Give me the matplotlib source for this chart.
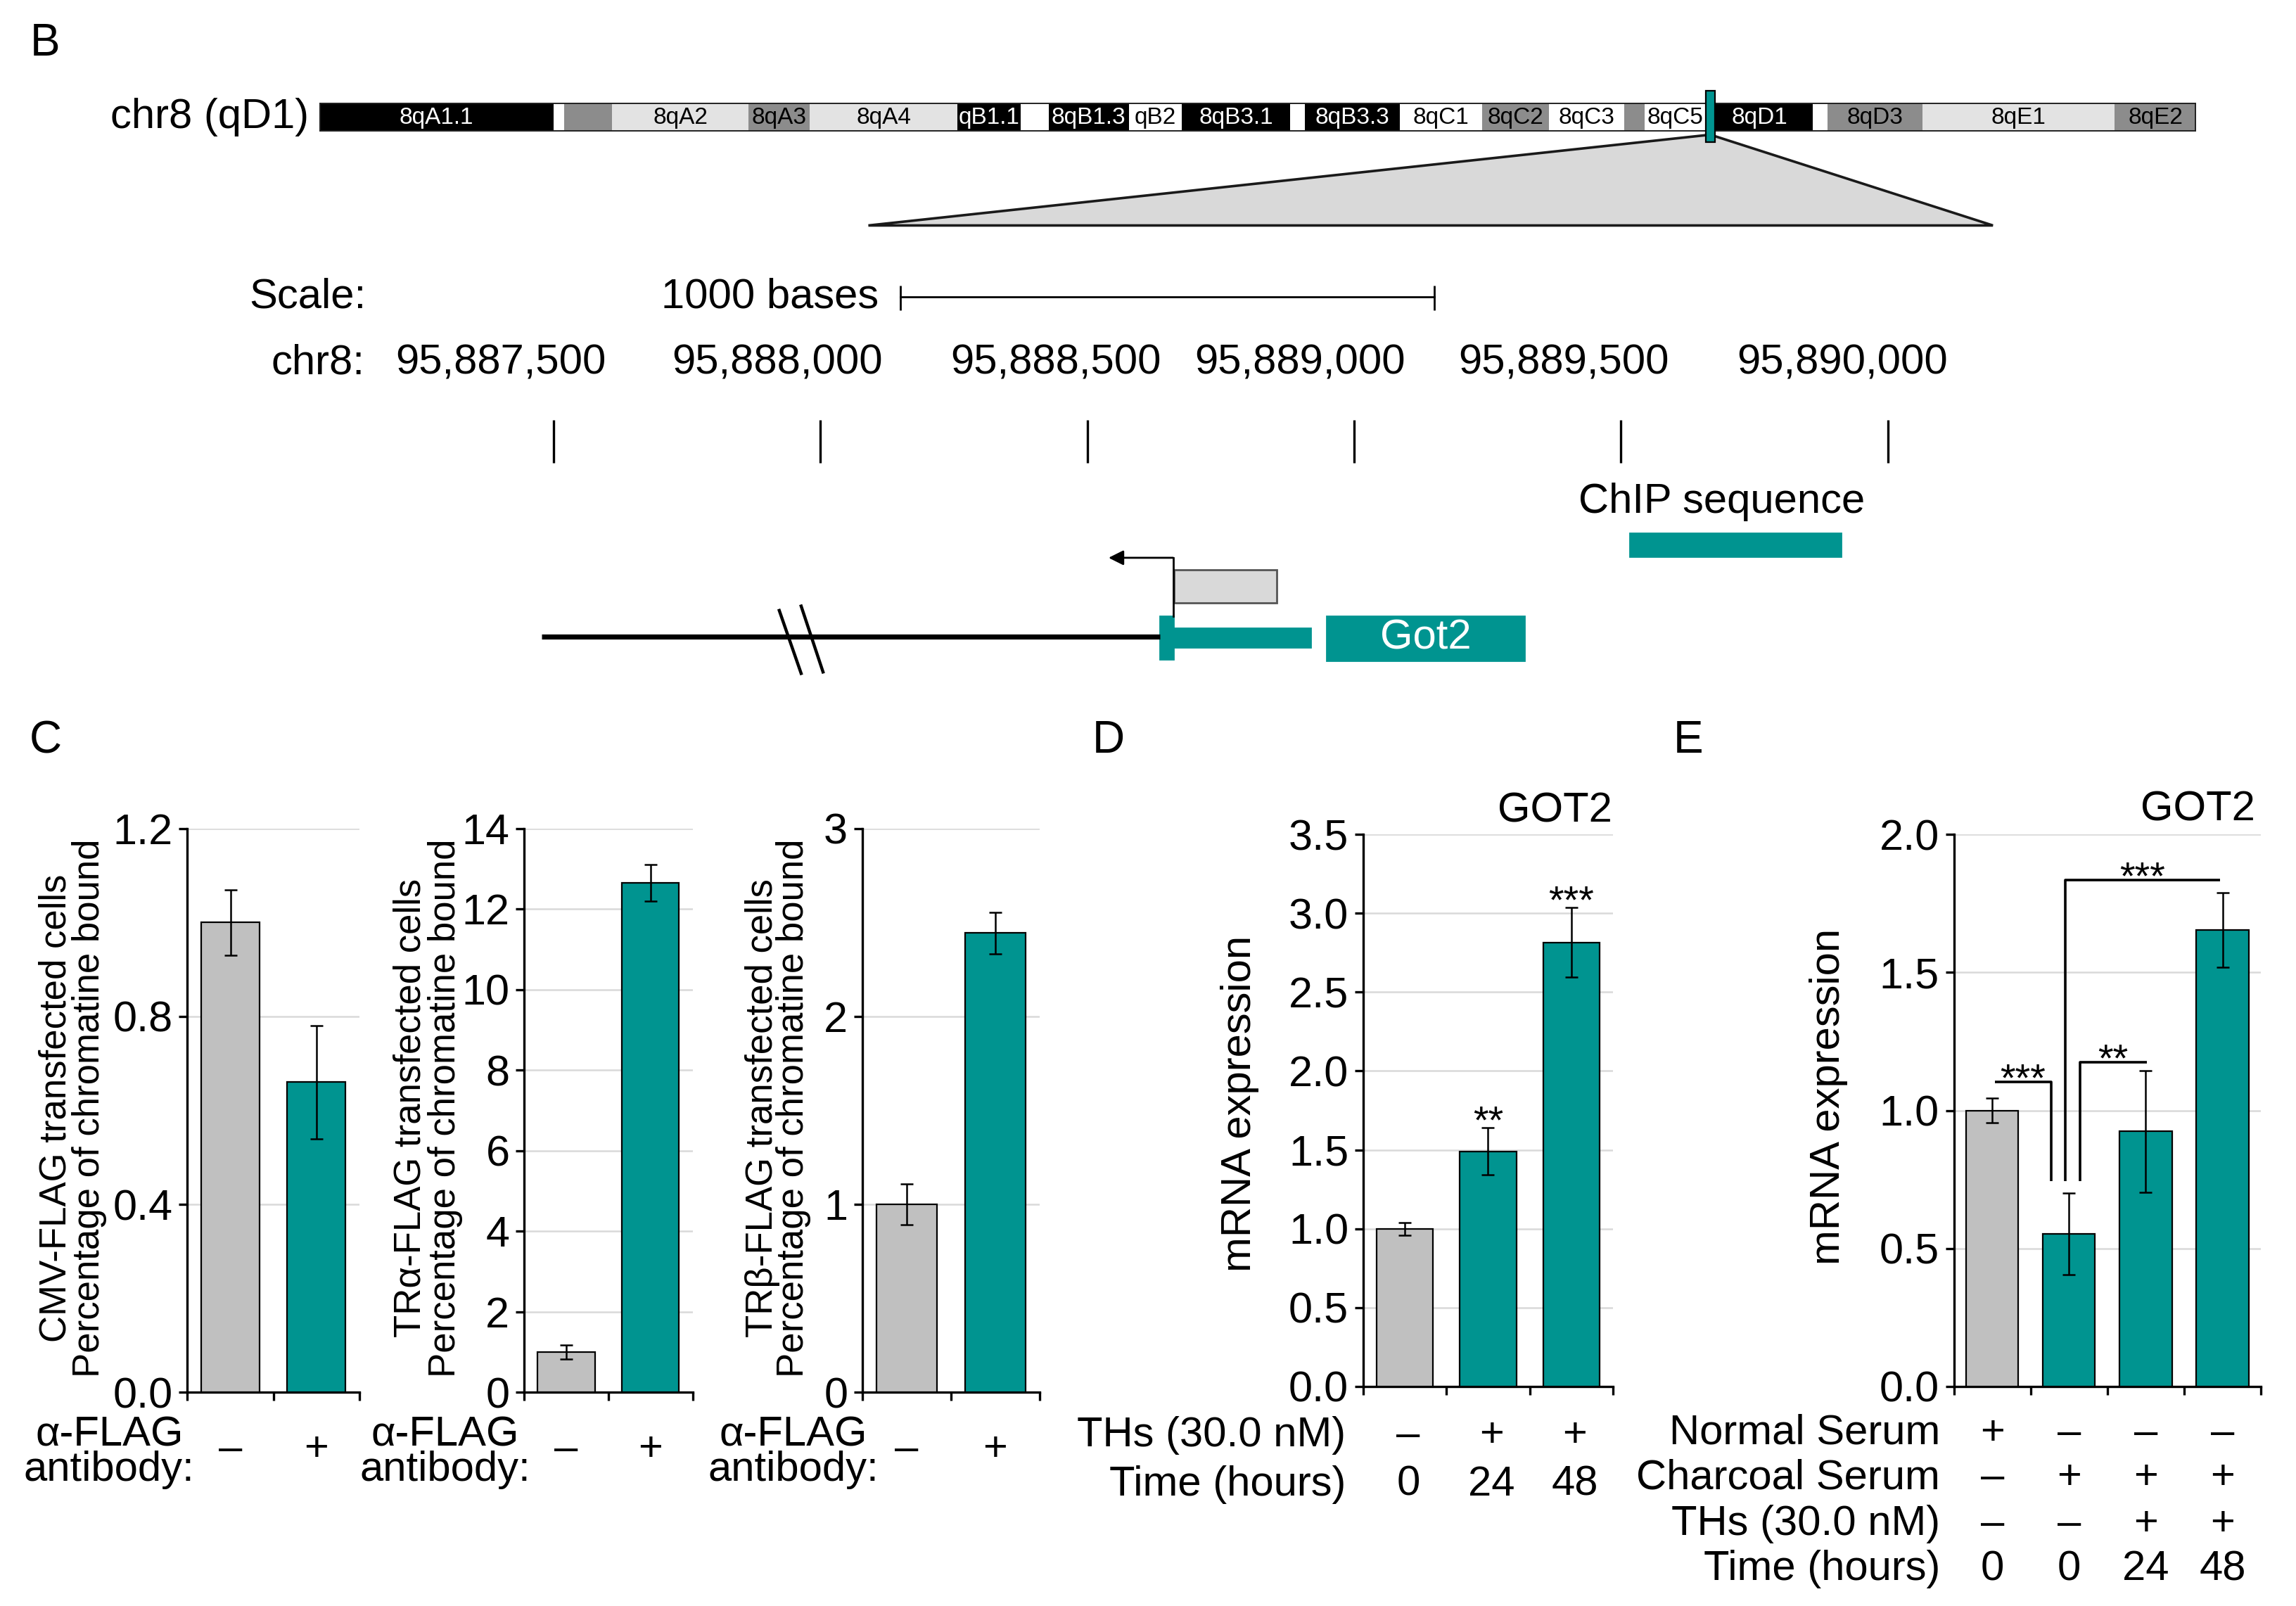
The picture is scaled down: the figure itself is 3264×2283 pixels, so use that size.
import matplotlib
matplotlib.use("Agg")
import matplotlib.pyplot as plt
from matplotlib.patches import Rectangle, Polygon
import numpy as np

plt.rcParams["font.family"] = ["Liberation Sans", "DejaVu Sans"]
plt.rcParams["axes.linewidth"] = 1.2

TEAL, GREY_BAR, LIGHT = "#009490", "#c0c0c0", "#d9d9d9"

# ── B: mouse chr8 ideogram (Mb) ───────────────────────────────────────────
CHR8_LEN = 129.4
BANDS = [("8qA1.1", 0.0, 16.15, "k"), ("", 16.15, 16.86, "w"), ("", 16.86, 20.19, "g"),
         ("8qA2", 20.19, 29.58, "l"), ("8qA3", 29.58, 33.81, "g"), ("8qA4", 33.81, 44.01, "l"),
         ("qB1.1", 44.01, 48.35, "k"), ("", 48.35, 50.27, "w"), ("8qB1.3", 50.27, 55.82, "k"),
         ("qB2", 55.82, 59.45, "w"), ("8qB3.1", 59.45, 66.92, "k"), ("", 66.92, 67.93, "w"),
         ("8qB3.3", 67.93, 74.49, "k"), ("8qC1", 74.49, 80.15, "w"), ("8qC2", 80.15, 84.79, "g"),
         ("8qC3", 84.79, 89.94, "w"), ("", 89.94, 91.35, "g"), ("8qC5", 91.35, 95.59, "w"),
         ("8qD1", 95.59, 102.96, "k"), ("", 102.96, 103.97, "w"), ("8qD3", 103.97, 110.53, "g"),
         ("8qE1", 110.53, 123.75, "l"), ("8qE2", 123.75, 129.4, "g")]
STAIN = {"k": "#000000", "w": "#ffffff", "g": "#8c8c8c", "l": "#e3e3e3"}
GOT2_MB = 95.89

# genomic coordinates (bases) of the zoomed locus
GENOME_VIEW = (95886462.9, 95890764.9)
COORD_TICKS = [95887500, 95888000, 95888500, 95889000, 95889500, 95890000]
COORD_LABEL_X = [342, 531, 721, 888, 1068, 1258]   # browser labels sit left of their ticks
SCALE_BAR = (95888150, 95889150)
CHIP_SEQ = (95889517, 95889912)
ZOOM_WIN = (95888090, 95890197)
BACKBONE = (95887478, 95888636)
BREAK_AT = 95887964
EXON1 = (95888636, 95888661)
UTR = (95888661, 95888919)
GOT2_BOX = (95888949, 95889319)
PROMOTER = (95888663, 95888855)
TSS_ARROW = (95888661, 95888540)

# ── C: ChIP ───────────────────────────────────────────────────────────────
FLAG_SIGNS = ["–", "+"]
C_VALUES = [[1.00, 0.66], [1.00, 12.65], [1.00, 2.445]]
C_ERRORS = [[0.07, 0.12], [0.175, 0.45], [0.11, 0.11]]
C_YMAX = [1.2, 14, 3]
C_YTICKS = [[0.0, 0.4, 0.8, 1.2], [0, 2, 4, 6, 8, 10, 12, 14], [0, 1, 2, 3]]
C_TICKFMT = ["{:.1f}", "{:.0f}", "{:.0f}"]
C_YLABELS = [("CMV-FLAG transfected cells", "Percentage of chromatine bound"),
             ("TRα-FLAG transfected cells", "Percentage of chromatine bound"),
             ("TRβ-FLAG transfected cells", "Percentage of chromatine bound")]

# ── D: time course ────────────────────────────────────────────────────────
D_VALUES = [1.0, 1.49, 2.815]
D_ERRORS = [0.04, 0.15, 0.22]
D_SIG = ["", "**", "***"]
D_ROWS = [("THs (30.0 nM)", ["–", "+", "+"]), ("Time (hours)", ["0", "24", "48"])]
D_YTICKS = [0.0, 0.5, 1.0, 1.5, 2.0, 2.5, 3.0, 3.5]

# ── E: charcoal serum ─────────────────────────────────────────────────────
E_VALUES = [1.0, 0.553, 0.924, 1.654]
E_ERRORS = [0.044, 0.148, 0.22, 0.134]
E_ROWS = [("Normal Serum", ["+", "–", "–", "–"]), ("Charcoal Serum", ["–", "+", "+", "+"]),
          ("THs (30.0 nM)", ["–", "–", "+", "+"]), ("Time (hours)", ["0", "0", "24", "48"])]
E_BRACKETS = [([0.03, 0.77, 0.77], [1.104, 1.104, 0.743], "***"),
              ([1.14, 1.14, 2.01], [0.743, 1.175, 1.175], "**"),
              ([0.95, 0.95, 2.97], [0.743, 1.835, 1.835], "***")]
E_YTICKS = [0.0, 0.5, 1.0, 1.5, 2.0]

W, H = 1568.0, 1097.0          # layout grid
fig = plt.figure(figsize=(16.32, 11.415), dpi=200)


def rect(l, t, r, b):
    return [l / W, 1 - b / H, (r - l) / W, (b - t) / H]


lay = fig.add_axes([0, 0, 1, 1])
lay.set_xlim(0, W); lay.set_ylim(H, 0); lay.set_axis_off(); lay.patch.set_alpha(0)


def txt(x, y, s, **kw):
    kw.setdefault("fontsize", 21.5)
    kw.setdefault("va", "center")
    return lay.text(x, y, s, **kw)


for lab, (x, y) in zip("BCDE", [(31, 30), (31, 506), (757, 506), (1153, 506)]):
    txt(x, y, lab, fontsize=23, ha="center")

# ideogram
axi = fig.add_axes(rect(218, 70, 1500, 90))
axi.set_xlim(0, CHR8_LEN); axi.set_ylim(0, 1); axi.set_axis_off()
for name, s, e, st in BANDS:
    axi.add_patch(Rectangle((s, 0), e - s, 1, facecolor=STAIN[st], edgecolor="none"))
    if name:
        axi.text((s + e) / 2, 0.48, name, fontsize=12, ha="center", va="center",
                 color="white" if st == "k" else "black")
axi.add_patch(Rectangle((0, 0), CHR8_LEN, 1, fill=False, edgecolor="#222222", lw=1.4))
axi.add_patch(Rectangle((GOT2_MB - 0.3, -0.35), 0.6, 1.75, facecolor=TEAL, edgecolor="black",
                        lw=0.8, clip_on=False, zorder=5))
txt(211, 80, "chr8 (qD1)", ha="right")

# genome browser part
axg = fig.add_axes([0, 0, 1, 1])
axg.set_xlim(*GENOME_VIEW); axg.set_ylim(H, 0); axg.set_axis_off(); axg.patch.set_alpha(0)

to_fig = fig.transFigure.inverted()
top = to_fig.transform(axi.transData.transform((GOT2_MB, -0.1)))
bl = to_fig.transform(axg.transData.transform((ZOOM_WIN[0], 154)))
br = to_fig.transform(axg.transData.transform((ZOOM_WIN[1], 154)))
lay.add_patch(Polygon([top, bl, br], closed=True, transform=fig.transFigure,
                      facecolor=LIGHT, edgecolor="#1a1a1a", lw=1.3))

txt(170, 203, "Scale:", ha="left")
txt(600, 203, "1000 bases", ha="right")
axg.plot(SCALE_BAR, [203, 203], color="black", lw=1.0)
axg.vlines(SCALE_BAR, 195, 212, color="black", lw=1.0)
txt(249, 248, "chr8:", ha="right")
for t, lx in zip(COORD_TICKS, COORD_LABEL_X):
    txt(lx, 248, f"{t:,}", ha="center")
axg.vlines(COORD_TICKS, 287, 316, color="black", lw=1.2)

txt(1176, 343, "ChIP sequence", ha="center")
axg.add_patch(Rectangle((CHIP_SEQ[0], 364), CHIP_SEQ[1] - CHIP_SEQ[0], 16, color=TEAL))

axg.plot(BACKBONE, [435, 435], color="black", lw=2.6, solid_capstyle="butt")
axg.plot([BREAK_AT - 41, BREAK_AT], [417, 460], color="black", lw=1.6)
axg.plot([BREAK_AT, BREAK_AT + 41], [414, 459], color="black", lw=1.6)
axg.add_patch(Rectangle((EXON1[0], 421), EXON1[1] - EXON1[0], 29, color=TEAL))
axg.add_patch(Rectangle((UTR[0], 429), UTR[1] - UTR[0], 13, color=TEAL))
axg.add_patch(Rectangle((GOT2_BOX[0], 421), GOT2_BOX[1] - GOT2_BOX[0], 30, color=TEAL))
axg.text(sum(GOT2_BOX) / 2, 436, "Got2", color="white", ha="center", va="center", fontsize=21.5)
axg.add_patch(Rectangle((PROMOTER[0], 389), PROMOTER[1] - PROMOTER[0], 23,
                        facecolor=LIGHT, edgecolor="#555555", lw=1.0))
axg.plot([TSS_ARROW[0]] * 2, [421, 381], color="black", lw=1.0)
axg.annotate("", xy=(TSS_ARROW[1], 381), xytext=(TSS_ARROW[0], 381),
             arrowprops=dict(arrowstyle="-|>", color="black", lw=1.0, mutation_scale=16,
                             shrinkA=0, shrinkB=0))


def bar_axes(box, vals, errs, ymax, yticks, fmt):
    ax = fig.add_axes(rect(*box))
    ax.patch.set_alpha(0)
    x = np.arange(len(vals))
    colors = [GREY_BAR] + [TEAL] * (len(vals) - 1)
    ax.bar(x, vals, width=0.68, color=colors, edgecolor="black", linewidth=0.8, zorder=3)
    ax.errorbar(x, vals, yerr=errs, fmt="none", ecolor="black", elinewidth=0.9,
                capsize=3.4, capthick=0.9, zorder=4)
    ax.set_xlim(-0.5, len(vals) - 0.5)
    ax.set_ylim(0, ymax)
    ax.set_yticks(yticks)
    ax.set_yticklabels([fmt.format(t) for t in yticks])
    ax.set_xticks(np.arange(len(vals) + 1) - 0.5)
    ax.set_xticklabels([])
    ax.tick_params(axis="y", length=4.5, width=1.2, pad=3, labelsize=22)
    ax.tick_params(axis="x", length=4.3, width=1.2)
    for s in ("top", "right"):
        ax.spines[s].set_visible(False)
    ax.yaxis.grid(True, color=LIGHT, lw=0.9, zorder=0)
    ax.set_axisbelow(True)
    return ax


# ── C ──
C_BOXES = [(128, 566, 245.5, 951), (358, 566, 473, 951), (589, 566, 710, 951)]
C_YLAB_X = [(38, 61), (280.5, 304), (520.6, 542)]
C_XLAB_X = [74.6, 303.8, 542]
for box, vals, errs, ymax, yt, fmt, ylab, lx, xx in zip(C_BOXES, C_VALUES, C_ERRORS, C_YMAX,
                                                       C_YTICKS, C_TICKFMT, C_YLABELS,
                                                       C_YLAB_X, C_XLAB_X):
    ax = bar_axes(box, vals, errs, ymax, yt, fmt)
    for line, x in zip(ylab, lx):
        txt(x, 757, line, rotation=90, ha="center", fontsize=19)
    txt(xx, 992, "α-FLAG\nantibody:", ha="center", multialignment="center", linespacing=0.88)
    for i, sgn in enumerate(FLAG_SIGNS):
        ax.text(i, (box[3] - 990) / (box[3] - box[1]), sgn, transform=ax.get_xaxis_transform(),
                ha="center", va="center", fontsize=21.5)

# ── D ──
D_BOX = (931, 570, 1101.5, 947)
axd = bar_axes(D_BOX, D_VALUES, D_ERRORS, 3.5, D_YTICKS, "{:.1f}")
for i, s in enumerate(D_SIG):
    if s:
        axd.annotate(s, (i, D_VALUES[i] + D_ERRORS[i]), xytext=(0, -2.5),
                     textcoords="offset points", ha="center", va="baseline", fontsize=20)
for (name, vals), y in zip(D_ROWS, [980.5, 1014]):
    txt(919, y, name, ha="right")
    for i, v in enumerate(vals):
        axd.text(i + 0.04, (D_BOX[3] - y) / (D_BOX[3] - D_BOX[1]), v,
                 transform=axd.get_xaxis_transform(), ha="center", va="center", fontsize=21.5)
txt(1101, 554, "GOT2", ha="right")
txt(846.5, 754, "mRNA expression", rotation=90, ha="center")

# ── E ──
E_BOX = (1334.4, 570, 1544, 947)
axe = bar_axes(E_BOX, E_VALUES, E_ERRORS, 2.0, E_YTICKS, "{:.1f}")
for xs, ys, s in E_BRACKETS:
    axe.plot(xs, ys, color="black", lw=1.3, zorder=5, solid_capstyle="butt")
    hx = [x for x, y in zip(xs, ys) if y == max(ys)]
    axe.annotate(s, ((min(hx) + max(hx)) / 2, max(ys)), xytext=(0, -4.5),
                 textcoords="offset points", ha="center", va="baseline", fontsize=20)
for (name, vals), y in zip(E_ROWS, [979, 1009.5, 1041, 1072]):
    txt(1325, y, name, ha="right")
    for i, v in enumerate(vals):
        axe.text(i, (E_BOX[3] - y) / (E_BOX[3] - E_BOX[1]), v,
                 transform=axe.get_xaxis_transform(), ha="center", va="center", fontsize=21.5)
txt(1540, 553, "GOT2", ha="right")
txt(1249, 749, "mRNA expression", rotation=90, ha="center")

fig.savefig("out.png", dpi=200)
